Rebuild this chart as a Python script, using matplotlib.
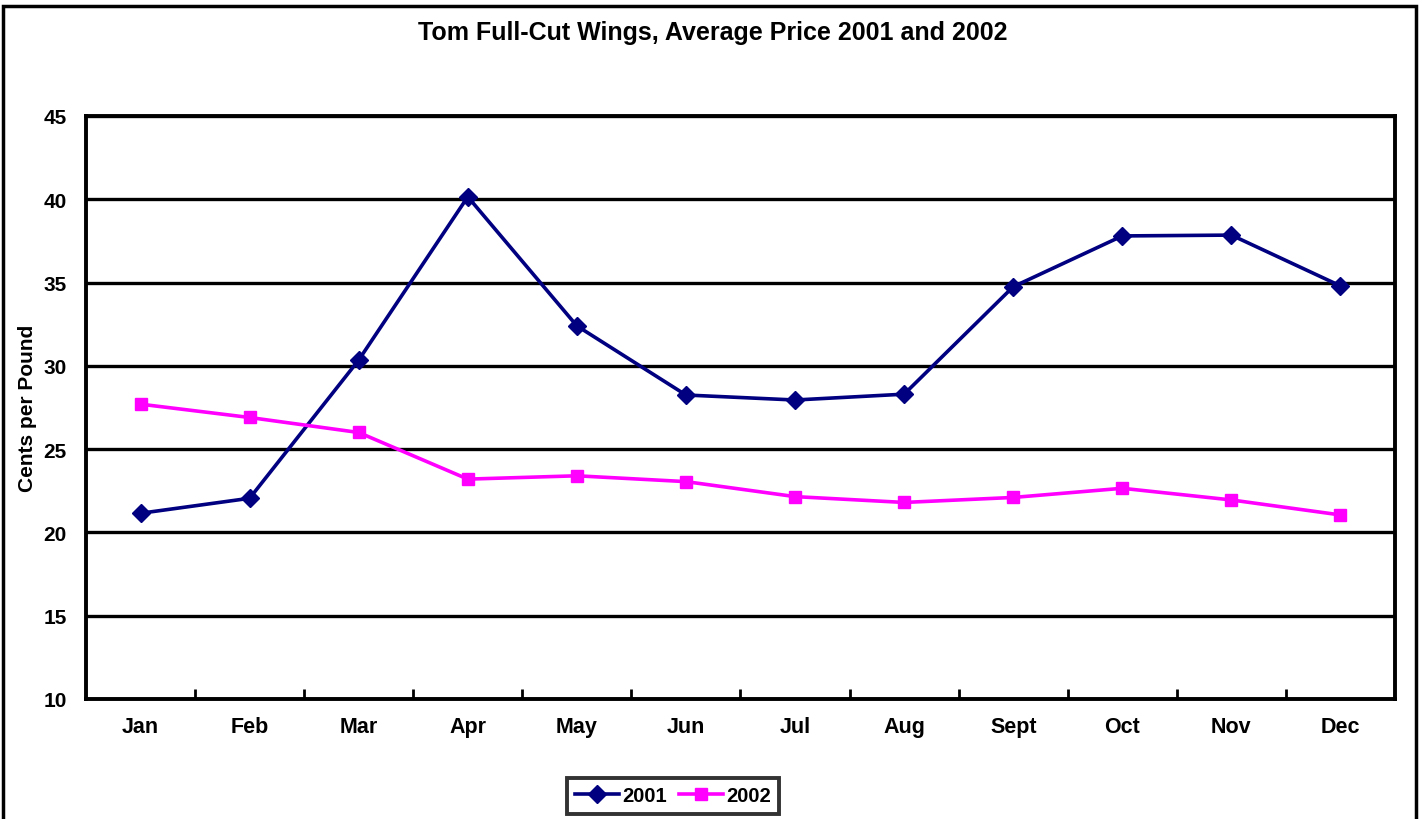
import matplotlib
matplotlib.use("Agg")
import matplotlib.pyplot as plt
from matplotlib.patches import Rectangle

plt.rcParams['font.family'] = ['Liberation Sans', 'DejaVu Sans']
plt.rcParams['font.weight'] = 'bold'

months = ['Jan', 'Feb', 'Mar', 'Apr', 'May', 'Jun', 'Jul', 'Aug', 'Sept', 'Oct', 'Nov', 'Dec']
price_2001 = [21.15, 22.05, 30.35, 40.15, 32.4, 28.25, 27.95, 28.3, 34.75, 37.8, 37.85, 34.8]
price_2002 = [27.7, 26.9, 26.0, 23.2, 23.4, 23.05, 22.15, 21.8, 22.1, 22.65, 21.95, 21.05]

fig = plt.figure(figsize=(14.25, 8.2), dpi=100)
ax = fig.add_axes([86 / 1425, 1 - 700 / 820, (1395 - 86) / 1425, (700 - 117) / 820])

# outer chart border
fig.patches.append(Rectangle((3 / 1425, -0.01), 1413 / 1425, 1.01 - 7 / 820,
                             transform=fig.transFigure, fill=False,
                             edgecolor='black', linewidth=2.5))

x = list(range(len(months)))
ax.plot(x, price_2001, color='#000080', linewidth=2.6, marker='D', markersize=9,
        label='2001')
ax.plot(x, price_2002, color='#FF00FF', linewidth=2.6, marker='s', markersize=9,
        label='2002')

ax.set_xlim(-0.5, 11.5)
ax.set_ylim(10, 45)
ax.set_yticks(range(10, 46, 5))
ax.yaxis.grid(True, color='black', linewidth=2.4)
ax.set_axisbelow(True)
ax.tick_params(axis='y', length=0, labelsize=15, pad=14)

ax.set_xticks([i + 0.5 for i in range(11)])
ax.set_xticks(x, minor=True)
ax.set_xticklabels([])
ax.set_xticklabels(months, minor=True)
ax.tick_params(axis='x', which='major', direction='in', length=7, width=2)
ax.tick_params(axis='x', which='minor', length=0, labelsize=15.5, pad=12)

for s in ax.spines.values():
    s.set_linewidth(2.8)

ax.set_ylabel('Cents per Pound', fontsize=15, fontweight='bold')
ax.yaxis.set_label_coords((37 - 86) / 1309, 0.5)
fig.text(0.5, 1 - 33 / 820, 'Tom Full-Cut Wings, Average Price 2001 and 2002',
         ha='center', va='center', fontsize=18, fontweight='bold')

leg = fig.legend(loc='center', bbox_to_anchor=(673 / 1425, 1 - 797 / 820), ncol=2,
                 fontsize=14.5, frameon=True, fancybox=False, edgecolor='black',
                 handlelength=2.2, columnspacing=0.6, borderpad=0.4, handletextpad=0.15,
                 borderaxespad=0)
leg.get_frame().set_linewidth(2.8)

fig.savefig('out.png', dpi=100)
